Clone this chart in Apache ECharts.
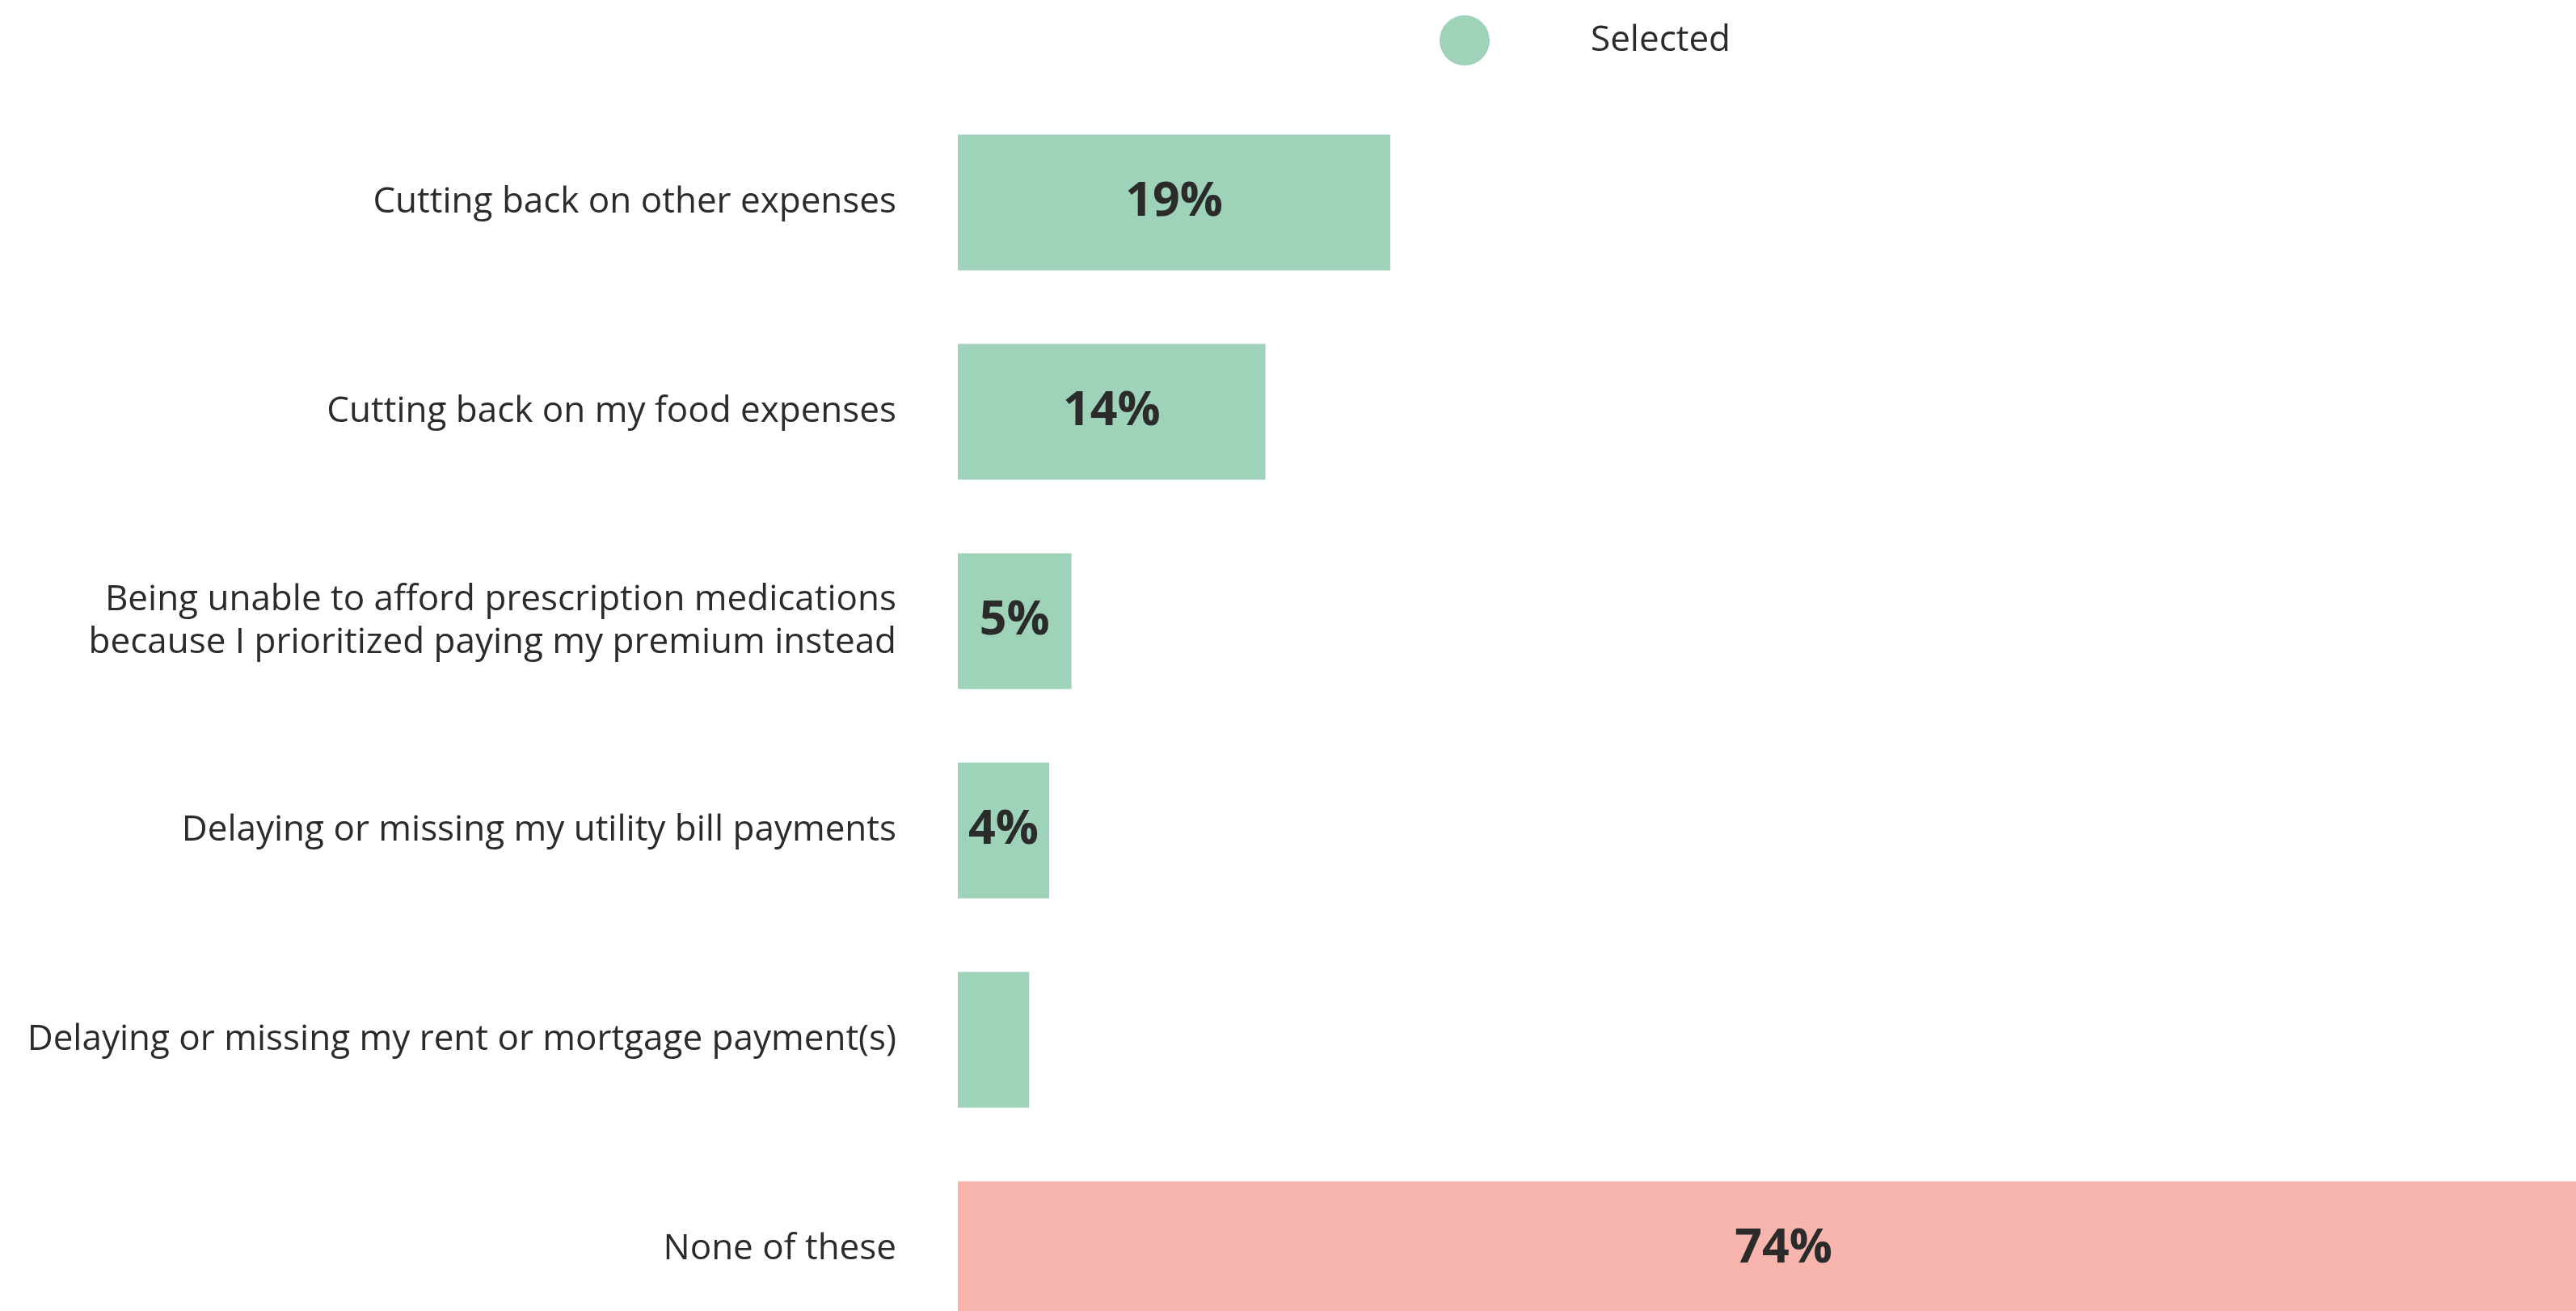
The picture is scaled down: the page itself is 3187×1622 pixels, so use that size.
<!DOCTYPE html>
<html>
<head>
<meta charset="utf-8">
<script src="https://cdn.jsdelivr.net/npm/echarts@6/dist/echarts.min.js"></script>
<style>
html,body{margin:0;padding:0;background:#fff;}
#chart{width:3187px;height:1622px;}
</style>
</head>
<body>
<div id="chart"></div>
<script>
var categories = [
  "Cutting back on other expenses",
  "Cutting back on my food expenses",
  "Being unable to afford prescription medications\nbecause I prioritized paying my premium instead",
  "Delaying or missing my utility bill payments",
  "Delaying or missing my rent or mortgage payment(s)",
  "None of these"
];
var values = [19.4, 13.8, 5.1, 4.1, 3.2, 74.1];
var showLabel = [true, true, true, true, false, true];
var barColors = ["#9ED2B9", "#9ED2B9", "#9ED2B9", "#9ED2B9", "#9ED2B9", "#F7B5AE"];
var seriesName = "Selected";

var chart = echarts.init(document.getElementById('chart'));
var data = values.map(function (v, i) {
  return {
    value: v,
    itemStyle: { color: barColors[i] },
    label: { show: showLabel[i] }
  };
});
chart.setOption({
  animation: false,
  backgroundColor: '#ffffff',
  textStyle: { fontFamily: 'Open Sans' },
  legend: {
    show: true,
    left: 1776,
    top: 14,
    icon: 'circle',
    itemWidth: 62,
    itemHeight: 62,
    data: [{ name: seriesName, itemStyle: { color: '#9ED2B9' } }],
    formatter: '{gap|}{t|{name}}'.replace('{name}', seriesName),
    textStyle: {
      rich: {
        gap: { width: 120 },
        t: { fontSize: 44, color: '#2b2b2b', fontFamily: 'Open Sans' }
      }
    }
  },
  grid: {
    left: 1185,
    top: 121,
    width: 2206,
    height: 1554,
    containLabel: false,
    outerBoundsMode: 'none'
  },
  xAxis: {
    type: 'value',
    min: 0,
    max: 80,
    show: false,
    splitLine: { show: false }
  },
  yAxis: {
    type: 'category',
    inverse: true,
    data: categories,
    axisLine: { show: false },
    axisTick: { show: false },
    splitLine: { show: false },
    axisLabel: {
      margin: 76,
      fontSize: 44,
      lineHeight: 53,
      color: '#2b2b2b',
      fontFamily: 'Open Sans',
      align: 'right'
    }
  },
  series: [{
    name: seriesName,
    type: 'bar',
    barWidth: 168,
    itemStyle: { color: '#9ED2B9' },
    label: {
      show: true,
      position: 'inside',
      fontSize: 59,
      fontWeight: 'bold',
      color: '#2b2b2b',
      fontFamily: 'Open Sans',
      formatter: function (p) { return Math.round(p.value) + '%'; }
    },
    data: data
  }]
});
</script>
</body>
</html>
